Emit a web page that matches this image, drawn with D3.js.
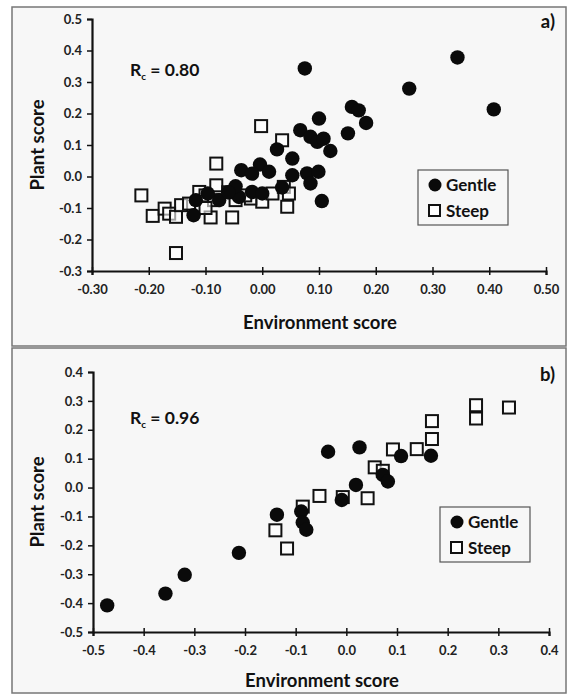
<!DOCTYPE html>
<html>
<head>
  <meta charset="utf-8" />
  <script src="https://d3js.org/d3.v7.min.js"></script>
  <style>
    body { margin: 0; padding: 0; background-color: #ffffff; }
    .tick text { font-family: Lato, "Open Sans", sans-serif; font-weight: bold; font-size: 13px; fill: #222; }
    .title { font-family: Lato, "Open Sans", sans-serif; font-weight: bold; fill: #111; }
  </style>
</head>
<body>
  <svg id="chart" width="569" height="695"></svg>
  <script>
    // panel a) values [environment score, plant score]
    const gentleA = [[0.344,0.378],[0.259,0.279],[0.408,0.213],[0.075,0.343],[0.158,0.221],[0.170,0.210],
      [0.183,0.170],[0.151,0.137],[0.100,0.184],[0.067,0.147],[0.085,0.126],[0.097,0.110],[0.108,0.120],
      [0.120,0.081],[0.026,0.086],[0.053,0.057],[0.053,0.004],[0.079,0.010],[0.099,0.015],[0.085,-0.022],
      [0.105,-0.078],[-0.037,0.020],[-0.004,0.038],[0.012,0.015],[-0.018,0.009],[-0.041,-0.065],
      [-0.047,-0.031],[-0.018,-0.049],[0.000,-0.054],[-0.076,-0.075],[-0.096,-0.054],[-0.117,-0.075],
      [-0.121,-0.123],[-0.060,-0.050],[0.035,-0.035]];
    const steepA = [[-0.213,-0.060],[-0.193,-0.125],[-0.172,-0.102],[-0.164,-0.118],[-0.152,-0.128],
      [-0.152,-0.243],[-0.143,-0.091],[-0.129,-0.086],[-0.111,-0.049],[-0.100,-0.060],[-0.091,-0.130],
      [-0.081,0.041],[-0.081,-0.028],[-0.085,-0.075],[-0.100,-0.100],[-0.053,-0.130],[-0.047,-0.075],
      [-0.020,-0.070],[-0.002,0.160],[0.000,-0.080],[0.018,-0.054],[0.035,0.115],[0.038,-0.033],
      [0.047,-0.054],[0.044,-0.096],[-0.060,-0.050],[-0.030,-0.060]];
    // panel b)
    const gentleB = [[-0.472,-0.408],[-0.357,-0.367],[-0.319,-0.302],[-0.212,-0.226],[-0.137,-0.094],
      [-0.089,-0.083],[-0.086,-0.121],[-0.079,-0.146],[-0.036,0.124],[-0.009,-0.043],[0.019,0.009],
      [0.026,0.139],[0.072,0.044],[0.082,0.021],[0.108,0.109],[0.167,0.110]];
    const steepB = [[-0.140,-0.148],[-0.117,-0.211],[-0.086,-0.066],[-0.053,-0.029],[-0.007,-0.033],
      [0.042,-0.037],[0.056,0.070],[0.072,0.058],[0.092,0.132],[0.139,0.133],[0.169,0.168],
      [0.169,0.230],[0.256,0.239],[0.256,0.285],[0.321,0.277]];

    const xTicksA = [-0.3,-0.2,-0.1,0,0.1,0.2,0.3,0.4,0.5];
    const yTicksA = [-0.3,-0.2,-0.1,0,0.1,0.2,0.3,0.4,0.5];
    const xTicksB = [-0.5,-0.4,-0.3,-0.2,-0.1,0,0.1,0.2,0.3,0.4];
    const yTicksB = [-0.5,-0.4,-0.3,-0.2,-0.1,0,0.1,0.2,0.3,0.4];

    // plain hyphen for negatives, like the original
    const loc = d3.formatLocale({decimal: ".", thousands: ",", grouping: [3], currency: ["", ""], minus: "-"});

    const svg = d3.select("#chart");

    function panel(cfg) {
      // frame
      svg.append("rect").attr("x", cfg.box[0]).attr("y", cfg.box[1])
        .attr("width", cfg.box[2]).attr("height", cfg.box[3])
        .attr("fill", "#f7f7f7").attr("stroke", "#777").attr("stroke-width", 1.5);

      const x = d3.scaleLinear().domain(d3.extent(cfg.xTicks)).range(cfg.xr);
      const y = d3.scaleLinear().domain(d3.extent(cfg.yTicks)).range(cfg.yr);

      const gx = svg.append("g").attr("transform", `translate(0,${cfg.yr[0]})`)
        .call(d3.axisBottom(x).tickValues(cfg.xTicks).tickFormat(loc.format(cfg.xFmt)).tickSize(4).tickPadding(10));
      const gy = svg.append("g").attr("transform", `translate(${cfg.xr[0]},0)`)
        .call(d3.axisLeft(y).tickValues(cfg.yTicks).tickFormat(loc.format(".1f")).tickSize(5).tickPadding(5));
      [gx, gy].forEach(g => {
        g.select(".domain").attr("stroke", "#111").attr("stroke-width", 2.2);
        g.selectAll(".tick line").attr("stroke", "#111").attr("stroke-width", 1.5);
      });
      gx.selectAll(".tick line").attr("y1", -4);

      const pts = svg.append("g");
      pts.selectAll(".steep").data(cfg.steep).enter().append("rect")
        .attr("x", d => x(d[0]) - 6).attr("y", d => y(d[1]) - 6)
        .attr("width", 12).attr("height", 12)
        .attr("fill", "#fff").attr("fill-opacity", 0.6).attr("stroke", "#111").attr("stroke-width", 2);
      pts.selectAll(".gentle").data(cfg.gentle).enter().append("circle")
        .attr("cx", d => x(d[0])).attr("cy", d => y(d[1])).attr("r", 7.2)
        .attr("fill", "#0a0a0a");

      // texts
      svg.append("text").attr("class", "title").attr("x", (cfg.xr[0] + cfg.xr[1]) / 2 + 1)
        .attr("y", cfg.xTitleY).attr("text-anchor", "middle").attr("font-size", 18.5)
        .text("Environment score");
      const cy = (cfg.yr[0] + cfg.yr[1]) / 2;
      svg.append("text").attr("class", "title")
        .attr("transform", `translate(44,${cy}) rotate(-90)`)
        .attr("text-anchor", "middle").attr("font-size", 18.5).text("Plant score");
      svg.append("text").attr("class", "title").attr("x", 555).attr("y", cfg.tagY)
        .attr("text-anchor", "end").attr("font-size", 18.5).text(cfg.tag);
      const rc = svg.append("text").attr("class", "title").attr("x", 130).attr("y", cfg.rcY)
        .attr("font-size", 17.5);
      rc.append("tspan").text("R");
      rc.append("tspan").attr("font-size", 10).attr("dy", 4).text("c");
      rc.append("tspan").attr("dy", -4).text(" = " + cfg.rc);

      // legend
      const L = cfg.legend;
      svg.append("rect").attr("x", L[0]).attr("y", L[1]).attr("width", 90).attr("height", 55)
        .attr("fill", "#f7f7f7").attr("stroke", "#555").attr("stroke-width", 1.2);
      svg.append("circle").attr("cx", L[0] + 17).attr("cy", L[1] + 15).attr("r", 6.5).attr("fill", "#0a0a0a");
      svg.append("rect").attr("x", L[0] + 11).attr("y", L[1] + 35).attr("width", 11).attr("height", 11)
        .attr("fill", "#fff").attr("stroke", "#111").attr("stroke-width", 2);
      svg.append("text").attr("class", "title").attr("x", L[0] + 28).attr("y", L[1] + 21)
        .attr("font-size", 17).text("Gentle");
      svg.append("text").attr("class", "title").attr("x", L[0] + 28).attr("y", L[1] + 47)
        .attr("font-size", 17).text("Steep");
    }

    panel({
      box: [12, 7, 554, 339], xr: [92, 546], yr: [271, 19],
      xTicks: xTicksA, yTicks: yTicksA, xFmt: ".2f",
      gentle: gentleA, steep: steepA,
      xTitleY: 329, tagY: 28, rc: "0.80", rcY: 76, legend: [418, 170], tag: "a)"
    });
    panel({
      box: [12, 348, 554, 345], xr: [93, 549], yr: [632, 372],
      xTicks: xTicksB, yTicks: yTicksB, xFmt: ".1f",
      gentle: gentleB, steep: steepB,
      xTitleY: 687, tagY: 381, rc: "0.96", rcY: 424, legend: [440, 507], tag: "b)"
    });
  </script>
</body>
</html>
